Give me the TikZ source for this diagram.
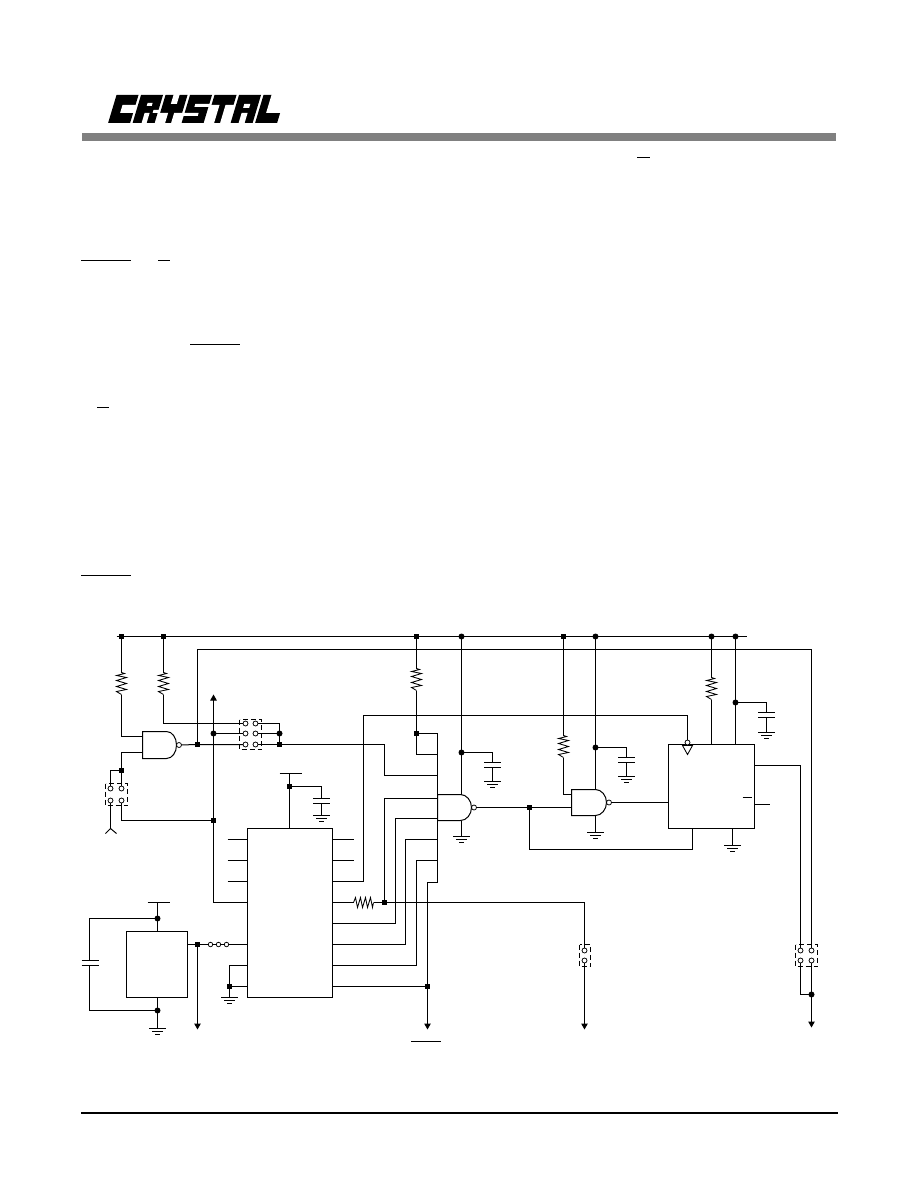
\documentclass[tikz,border=0pt]{standalone}
\usetikzlibrary{arrows.meta}
\tikzset{
 wire/.style={line width=1pt,line cap=butt,line join=miter},
 thinw/.style={line width=0.85pt},
 jsq/.style={fill=black,draw=none,rectangle,minimum size=5.5pt,inner sep=0pt,outer sep=0pt},
 jrd/.style={fill=black,draw=none,circle,minimum size=6pt,inner sep=0pt,outer sep=0pt},
 pad/.style={draw=black,fill=white,circle,line width=0.75pt,minimum size=5pt,inner sep=0pt,outer sep=0pt},
 chip/.style={draw=black,line width=1pt,rectangle,inner sep=0pt,outer sep=0pt,anchor=north west},
 swbox/.style={draw=black,line width=1pt,dash pattern=on 5pt off 3pt},
 rule/.style={line width=1pt},
 tip/.style={-{Triangle[length=6pt,width=6.5pt]}},
}
\newcommand{\resv}[3]{\coordinate (#1t) at (#2,#3); \coordinate (#1b) at (#2,#3+22);
 \draw[thinw] (#2,#3) -- ++(3,1) -- ++(-8,2) -- ++(10,2) -- ++(-10,3) -- ++(10,3) -- ++(-10,3) -- ++(10,3) -- ++(-10,2) -- ++(5,3);}
\newcommand{\resh}[3]{\coordinate (#1l) at (#2,#3); \coordinate (#1r) at (#2+20,#3);
 \draw[thinw] (#2,#3) -- ++(2,-5) -- ++(2,10) -- ++(3,-10) -- ++(2,10) -- ++(3,-10) -- ++(2,10) -- ++(3,-10) -- ++(2,10) -- ++(1,-5);}
\newcommand{\gnd}[3]{\coordinate (#1) at (#2,#3);
 \draw[wire] (#2-8.5,#3) -- (#2+8.5,#3) (#2-5.5,#3+3) -- (#2+5.5,#3+3) (#2-2.5,#3+6) -- (#2+2.5,#3+6);}
\newcommand{\capg}[4]{\coordinate (#1t) at (#2,#3);
 \draw[wire] (#2-8.5,#3) -- (#2+8.5,#3) (#2-8.5,#3+5) -- (#2+8.5,#3+5) (#2,#3+5) -- (#2,#4);
 \gnd{#1g}{#2}{#4}}
\newcommand{\gate}[6]{\draw[wire] (#2,#3) -- (#5,#3) .. controls (#5+6,#3) and (#6,{(#3+#4)/2-7}) .. (#6,{(#3+#4)/2}) .. controls (#6,{(#3+#4)/2+7}) and (#5+6,#4) .. (#5,#4) -- (#2,#4) -- cycle;
 \node[pad] (#1) at (#6+2.5,{(#3+#4)/2}) {};}
\newcommand{\logocell}[2]{\begin{scope}[shift={(#1,0)}]\fill[black] (0,0) rectangle (22,28); \fill[white] #2;\end{scope}}
\begin{document}
\begin{tikzpicture}[x=1pt,y=-1pt]
\useasboundingbox (0,0) rectangle (918,1188);
\fill[white] (0,0) rectangle (918,1188);

% ---- page furniture
\fill[black!50] (82,133) rectangle (836,141);
\fill[black] (81,1112) rectangle (838,1114);

% ---- logo
\begin{scope}[shift={(116.5,95)},xslant=0.3]
 \logocell{0}{(9,10) rectangle (23,18)}
 \logocell{24.5}{(9,8) rectangle (14,11) (9,18) rectangle (14,29) (17,15) rectangle (23,18)}
 \logocell{49}{(8,-1) rectangle (14,9) (-1,18) rectangle (8,29) (14,18) rectangle (23,29)}
 \logocell{73.5}{(8,9) rectangle (23,12) (-1,18) rectangle (14,21)}
 \logocell{98}{(-1,10) rectangle (8,29) (14,10) rectangle (23,29)}
 \logocell{122.5}{(8,9) rectangle (14,13) (8,18) rectangle (14,29)}
 \logocell{147}{(8,-1) rectangle (23,18)}
\end{scope}

\begin{scope}[shift={(0.5,0.5)}]
\draw[rule] (636.5,157) -- (649.5,157);
\draw[rule] (80.5,260) -- (130.5,260);
\draw[rule] (157.5,260) -- (169.5,260);
\draw[rule] (189.5,344) -- (239.5,344);
\draw[rule] (96.5,407) -- (108.5,407);
\draw[rule] (80.5,575) -- (130.5,575);
\draw[rule] (410.5,1041) -- (440.5,1041);

% ---- junctions
\node[jsq] (ja) at (121,636) {};
\node[jsq] (jb) at (163,636) {};
\node[jsq] (jc) at (416,636) {};
\node[jrd] (jd) at (461,636) {};
\node[jsq] (je) at (563,636) {};
\node[jrd] (jf) at (595,636) {};
\node[jrd] (jg) at (711,636) {};
\node[jrd] (jh) at (735,636) {};
\node[jsq] (jout) at (197,744) {};
\node[jrd] (jv) at (213,733) {};
\node[jrd] (jsw) at (279,733) {};
\node[jsq] (jsx) at (279,744) {};
\node[jsq] (jk) at (121,770) {};
\node[jsq] (jl) at (213,820) {};
\node[jsq] (jvcc) at (289,786) {};
\node[jsq] (jm) at (416,733) {};
\node[jrd] (jn) at (461,752) {};
\node[jrd] (jo) at (595,747) {};
\node[jrd] (jp) at (735,702) {};
\node[jsq] (jq) at (529,807) {};
\node[jsq] (jr) at (384,902) {};
\node[jsq] (js) at (427,986) {};
\node[jrd] (jt) at (157,918) {};
\node[jrd] (ju) at (157,1010) {};
\node[jsq] (jw) at (197,944) {};
\node[jsq] (jx) at (229,986) {};
\node[jrd] (jy) at (811,994) {};

% ---- chips
\node[chip,minimum width=85pt,minimum height=169pt] (u1) at (247,828) {};
\node[chip,minimum width=61pt,minimum height=66pt] (u2) at (126,931) {};
\node[chip,minimum width=86pt,minimum height=84pt] (u3) at (668,744) {};

% ---- gates
\gate{g1}{142}{731}{758}{166}{176}
\gate{g2}{437}{794}{820}{460}{471}
\gate{g3}{571}{789}{815}{595}{606}

% ---- switches: dashed boxes and pads
\draw[swbox] (105,783) rectangle (127,805);
\node[pad] (s1a) at (110,788) {};
\node[pad] (s1b) at (121,788) {};
\node[pad] (s1c) at (110,800) {};
\node[pad] (s1d) at (121,800) {};

\draw[swbox] (239,719) rectangle (261,749);
\node[pad] (s2a) at (245,723) {};
\node[pad] (s2b) at (255,723) {};
\node[pad] (s2c) at (245,733) {};
\node[pad] (s2d) at (255,733) {};
\node[pad] (s2e) at (245,744) {};
\node[pad] (s2f) at (255,744) {};

\draw[swbox] (579,944) rectangle (590,966);
\node[pad] (s3a) at (584,950) {};
\node[pad] (s3b) at (584,960) {};

\draw[swbox] (795,944) rectangle (817,966);
\node[pad] (s4a) at (800,950) {};
\node[pad] (s4b) at (811,950) {};
\node[pad] (s4c) at (800,960) {};
\node[pad] (s4d) at (811,960) {};

\node[pad,minimum size=4.5pt] (l1) at (210,944) {};
\node[pad,minimum size=4.5pt] (l2) at (218,944) {};
\node[pad,minimum size=4.5pt] (l3) at (226,944) {};

% ---- rails
\coordinate (railL) at (116,636);
\coordinate (railR) at (746,636);
\draw[wire] (railL) -- (railR);
\draw[wire] (jout.center) -- (197,649) -- (811,649) -- (s4b);

% ---- resistors
\resv{r1}{121}{672}
\resv{r2}{163}{672}
\resv{r3}{416}{668}
\resv{r4}{563}{735}
\resv{r5}{711}{677}
\resh{r6}{353}{902}
\draw[wire] (ja.center) -- (r1t) (jb.center) -- (r2t) (jc.center) -- (r3t) (je.center) -- (r4t) (jg.center) -- (r5t);

% ---- gate 1 and its surroundings
\draw[wire] (r1b) -- (121,736) -- (142,736);
\draw[wire] (jk.center) -- (121,752) -- (142,752);
\draw[wire] (g1) -- (jout.center) -- (s2e);
\draw[wire] (jk.center) -- (s1b);
\draw[wire] (jk.center) -- (110,770) -- (s1a);
\coordinate (ant) at (110,828);
\draw[wire] (s1c) -- (ant);
\draw[wire] (105,833) -- (ant) -- (116,833);
\draw[wire] (s1d) -- (121,820) -- (jl.center);
\draw[wire] (r2b) -- (163,723) -- (s2a);
\draw[wire] (s2b) -- (279,723) -- (jsx.center);
\draw[wire] (jv.center) -- (s2c);
\draw[wire] (s2d) -- (jsw.center);
\draw[wire] (s2f) -- (jsx.center);
\coordinate (uptip) at (213,694);
\coordinate (upfoot) at (213,902);
\draw[wire,tip] (upfoot) -- (uptip);
\draw[wire] (upfoot) -- (247,902);

% ---- chip U1 pins
\coordinate (vcc1) at (289,773);
\draw[wire] (279,773) -- (301,773);
\draw[wire] (vcc1) -- (289,828);
\capg{c1}{321}{798}{815}
\draw[wire] (jvcc.center) -- (321,786) -- (c1t);
\foreach \yy in {839,860,881} \draw[wire] (227,\yy) -- (247,\yy);
\foreach \yy in {839,860} \draw[wire] (332,\yy) -- (353,\yy);
\draw[wire] (332,881) -- (363,881) -- (363,715) -- (687,715) -- (687,740);
\draw[wire] (332,902) -- (r6l);
\draw[wire] (r6r) -- (jr.center) -- (584,902) -- (s3a);
\draw[wire] (332,923) -- (395,923) -- (395,818) -- (437,818);
\draw[wire] (332,944) -- (405,944) -- (405,839) -- (437,839);
\draw[wire] (332,965) -- (416,965) -- (416,860) -- (437,860);
\draw[wire] (332,986) -- (js.center);
\draw[wire] (437,882) -- (427,882) -- (js.center);
\coordinate (atip1) at (427,1029);
\draw[wire,tip] (js.center) -- (atip1);
\draw[wire] (jr.center) -- (384,798) -- (437,798);
\draw[wire] (437,733) -- (437,882);
\draw[wire] (r3b) -- (jm.center) -- (416,754) -- (437,754);
\draw[wire] (jm.center) -- (437,733);
\draw[wire] (jsx.center) -- (384,744) -- (384,775) -- (437,775);

% ---- gate 2
\draw[wire] (jd.center) -- (461,794);
\capg{c2}{492}{762}{781}
\draw[wire] (jn.center) -- (492,752) -- (c2t);
\gnd{g2g}{461}{836}
\draw[wire] (461,820) -- (g2g);
\draw[wire] (g2) -- (jq.center) -- (571,807);
\draw[wire] (jq.center) -- (529,849) -- (692,849) -- (692,828);

% ---- gate 3
\draw[wire] (r4b) -- (563,794) -- (571,794);
\draw[wire] (jf.center) -- (595,789);
\capg{c3}{626}{757}{776}
\draw[wire] (jo.center) -- (626,747) -- (c3t);
\gnd{g3g}{595}{832}
\draw[wire] (595,815) -- (g3g);
\draw[wire] (g3) -- (668,802);

% ---- chip U3
\draw[wire] (r5b) -- (711,744);
\draw[wire] (jh.center) -- (735,744);
\capg{c4}{766}{712}{732}
\draw[wire] (jp.center) -- (766,702) -- (c4t);
\gnd{g4g}{732}{845}
\draw[wire] (732,828) -- (g4g);
\draw[line width=0.85pt,fill=white] (682,745) -- (692,745) -- (687,754) -- cycle;
\node[pad] at (687,742) {};
\draw[wire] (754,765) -- (800,765) -- (s4a);
\draw[wire] (754,804) -- (769,804);
\draw[wire] (742,797) -- (751,797);

% ---- right-hand outputs
\coordinate (atip2) at (584,1029);
\coordinate (atip3) at (811,1027);
\draw[wire,tip] (s3b) -- (atip2);
\draw[wire] (s4c) -- (800,994) -- (jy.center);
\draw[wire] (s4d) -- (jy.center);
\draw[wire,tip] (jy.center) -- (atip3);

% ---- chip U2 and its pins
\draw[wire] (147,902) -- (169,902);
\draw[wire] (157,902) -- (157,931);
\gnd{g5g}{157}{1028}
\draw[wire] (157,997) -- (g5g);
\draw[wire] (jt.center) -- (89,918) -- (89,960);
\draw[wire] (81,960) -- (98,960) (81,965) -- (98,965);
\draw[wire] (89,965) -- (89,1010) -- (ju.center);
\draw[wire] (187,944) -- (jw.center) -- (l1);
\draw[wire] (l1) -- (l2) (l2) -- (l3);
\draw[wire] (l3) -- (247,944);
\coordinate (atip4) at (197,1029);
\draw[wire,tip] (jw.center) -- (atip4);
\draw[wire] (247,965) -- (229,965) -- (229,997);
\draw[wire] (jx.center) -- (247,986);
\gnd{g6g}{229}{997}
\end{scope}
\end{tikzpicture}
\end{document}
